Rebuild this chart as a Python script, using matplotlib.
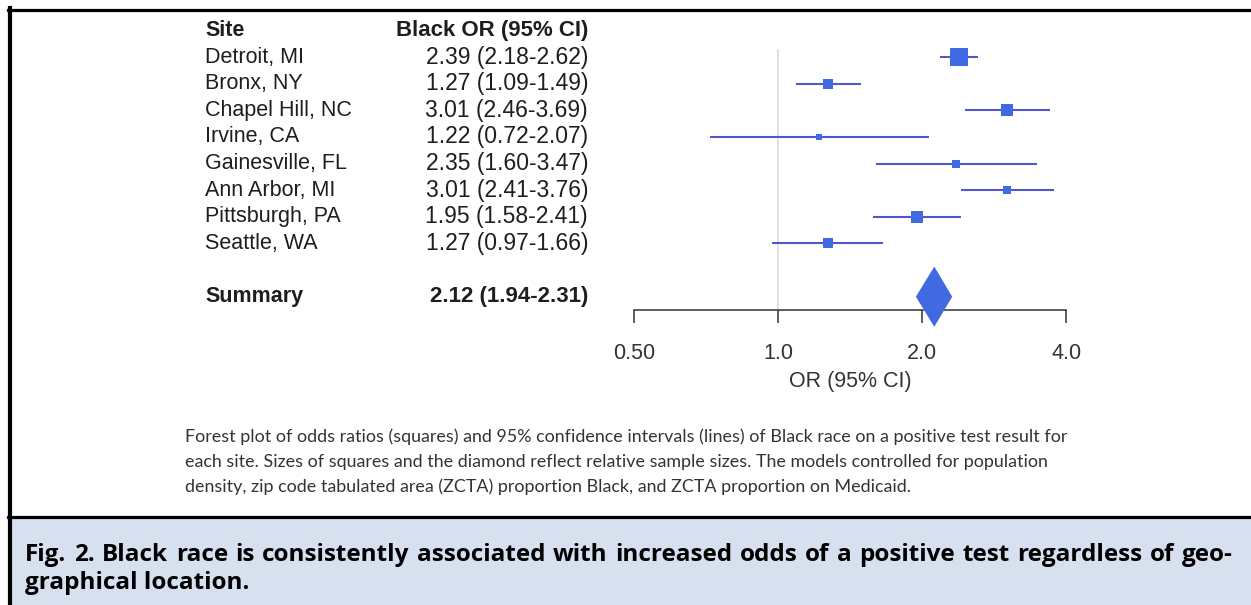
import matplotlib
matplotlib.use("Agg")
import matplotlib.pyplot as plt
import numpy as np
from matplotlib.lines import Line2D
from matplotlib.patches import Polygon, Rectangle
from matplotlib.ticker import FixedFormatter, FixedLocator, NullLocator
from matplotlib.transforms import blended_transform_factory

# data
sites = ["Detroit, MI", "Bronx, NY", "Chapel Hill, NC", "Irvine, CA",
         "Gainesville, FL", "Ann Arbor, MI", "Pittsburgh, PA", "Seattle, WA"]
odds_ratio = [2.39, 1.27, 3.01, 1.22, 2.35, 3.01, 1.95, 1.27]
ci_low = [2.18, 1.09, 2.46, 0.72, 1.60, 2.41, 1.58, 0.97]
ci_high = [2.62, 1.49, 3.69, 2.07, 3.47, 3.76, 2.41, 1.66]
# relative sample size (box size, Detroit = 1)
rel_weight = [1.0, 0.58, 0.70, 0.30, 0.42, 0.42, 0.62, 0.58]
summary_or, summary_low, summary_high = 2.12, 1.94, 2.31
x_ticks = [0.5, 1.0, 2.0, 4.0]
x_tick_labels = ["0.50", "1.0", "2.0", "4.0"]

note_lines = [
    "Forest plot of odds ratios (squares) and 95% confidence intervals (lines) of Black race on a positive test result for",
    "each site. Sizes of squares and the diamond reflect relative sample sizes. The models controlled for population",
    "density, zip code tabulated area (ZCTA) proportion Black, and ZCTA proportion on Medicaid.",
]
caption_lines = [
    "Fig. 2. Black race is consistently associated with increased odds of a positive test regardless of geo-",
    "graphical location.",
]

W, H = 1251, 605
TEXT = "Liberation Sans"
BOX_BLUE = "#4169e1"
LINE_BLUE = "#5257c9"


def fx(px):
    return px / W


def fy(py):
    return 1 - py / H


def fmt_ci(est, lo, hi):
    return f"{est:.2f} ({lo:.2f}-{hi:.2f})"


fig = plt.figure(figsize=(W / 100, H / 100), dpi=100)
fig.patch.set_facecolor("white")

# caption box and frame
fig.add_artist(Rectangle((fx(12), 0), 1 - fx(12), fy(517), transform=fig.transFigure,
                         facecolor="#d6e0ef", edgecolor="none", zorder=0))
fig.add_artist(Line2D([fx(8), 1], [fy(9.5)] * 2, color="black", lw=2.3))
fig.add_artist(Line2D([fx(10), fx(10)], [fy(8), 0], color="black", lw=3.0))
fig.add_artist(Line2D([fx(8), 1], [fy(516.5)] * 2, color="black", lw=2.3))

# forest panel: 144 px per doubling, OR = 1 at x = 778 px
px_per_log2 = 144.2
ax = fig.add_axes([fx(600), fy(310), 500 / W, (310 - 30.4) / H])
ax.set_facecolor("none")
ax.set_xscale("log", base=2)
ax.set_xlim(2 ** ((600 - 778) / px_per_log2), 2 ** ((1100 - 778) / px_per_log2))
ax.set_ylim(9.5, -1)
for side in ("top", "right", "left"):
    ax.spines[side].set_visible(False)
ax.spines["bottom"].set_bounds(x_ticks[0], x_ticks[-1])
ax.spines["bottom"].set_color("#333333")
ax.spines["bottom"].set_linewidth(1.1)
ax.xaxis.set_major_locator(FixedLocator(x_ticks))
ax.xaxis.set_major_formatter(FixedFormatter(x_tick_labels))
ax.xaxis.set_minor_locator(NullLocator())
ax.tick_params(axis="x", length=9.5, width=1.1, color="#333333", pad=14.5,
               labelsize=15.5, labelcolor="#333333")
for lab in ax.get_xticklabels():
    lab.set_fontfamily(TEXT)
ax.set_yticks([])
ax.set_xlabel("OR (95% CI)", fontsize=15.5, fontfamily=TEXT, color="#333333", labelpad=5)

rows = np.arange(len(sites))
ax.plot([1, 1], [-0.27, 9.5], color="#d9d9d9", lw=1.1, zorder=1)
ax.hlines(rows, ci_low, ci_high, color=LINE_BLUE, lw=1.5, zorder=2)
for r, est, w in zip(rows, odds_ratio, rel_weight):
    ax.plot(est, r, marker="s", ls="none", ms=13 * w, color=BOX_BLUE,
            markeredgewidth=0, zorder=3)

summary_row = len(sites) + 1
diamond = Polygon([(summary_low, summary_row), (summary_or, summary_row - 1.13),
                   (summary_high, summary_row), (summary_or, summary_row + 1.13)],
                  closed=True, facecolor=BOX_BLUE, edgecolor="none",
                  clip_on=False, zorder=4)
ax.add_patch(diamond)

# text columns aligned with the rows
tr = blended_transform_factory(fig.transFigure, ax.transData)
txt = dict(transform=tr, va="center", fontfamily=TEXT, color="#1e1e1e")
ax.text(fx(205), -1, "Site", ha="left", fontweight="bold", fontsize=15.5, **txt)
ax.text(fx(588), -1, "Black OR (95% CI)", ha="right", fontweight="bold", fontsize=16, **txt)
for r, name, est, lo, hi in zip(rows, sites, odds_ratio, ci_low, ci_high):
    ax.text(fx(205), r, name, ha="left", fontsize=15.5, **txt)
    ax.text(fx(588), r, fmt_ci(est, lo, hi), ha="right", fontsize=16.5, **txt)
ax.text(fx(205), summary_row, "Summary", ha="left", fontweight="bold", fontsize=15.5, **txt)
ax.text(fx(588), summary_row, fmt_ci(summary_or, summary_low, summary_high),
        ha="right", fontweight="bold", fontsize=16, **txt)

# figure note
for py, line in zip([437, 462, 487], note_lines):
    fig.text(fx(185), fy(py), line, fontsize=12.9, fontfamily="Lato",
             color="#333333", va="center", ha="left")


def justified_line(words, x0, x1, py, **kw):
    items = [fig.text(0, fy(py), wd, **kw) for wd in words]
    rend = fig.canvas.get_renderer()
    widths = [t.get_window_extent(rend).width for t in items]
    gap = (x1 - x0 - sum(widths)) / (len(words) - 1)
    x = x0
    for t, wdt in zip(items, widths):
        t.set_x(fx(x))
        x += wdt + gap


cap_kw = dict(fontsize=17.5, fontfamily="Open Sans", fontweight="bold",
              color="black", va="baseline", ha="left")
justified_line(caption_lines[0].split(" "), 25, 1233, 561, **cap_kw)
fig.text(fx(25), fy(589), caption_lines[1], **cap_kw)

fig.savefig("out.png", dpi=100)
